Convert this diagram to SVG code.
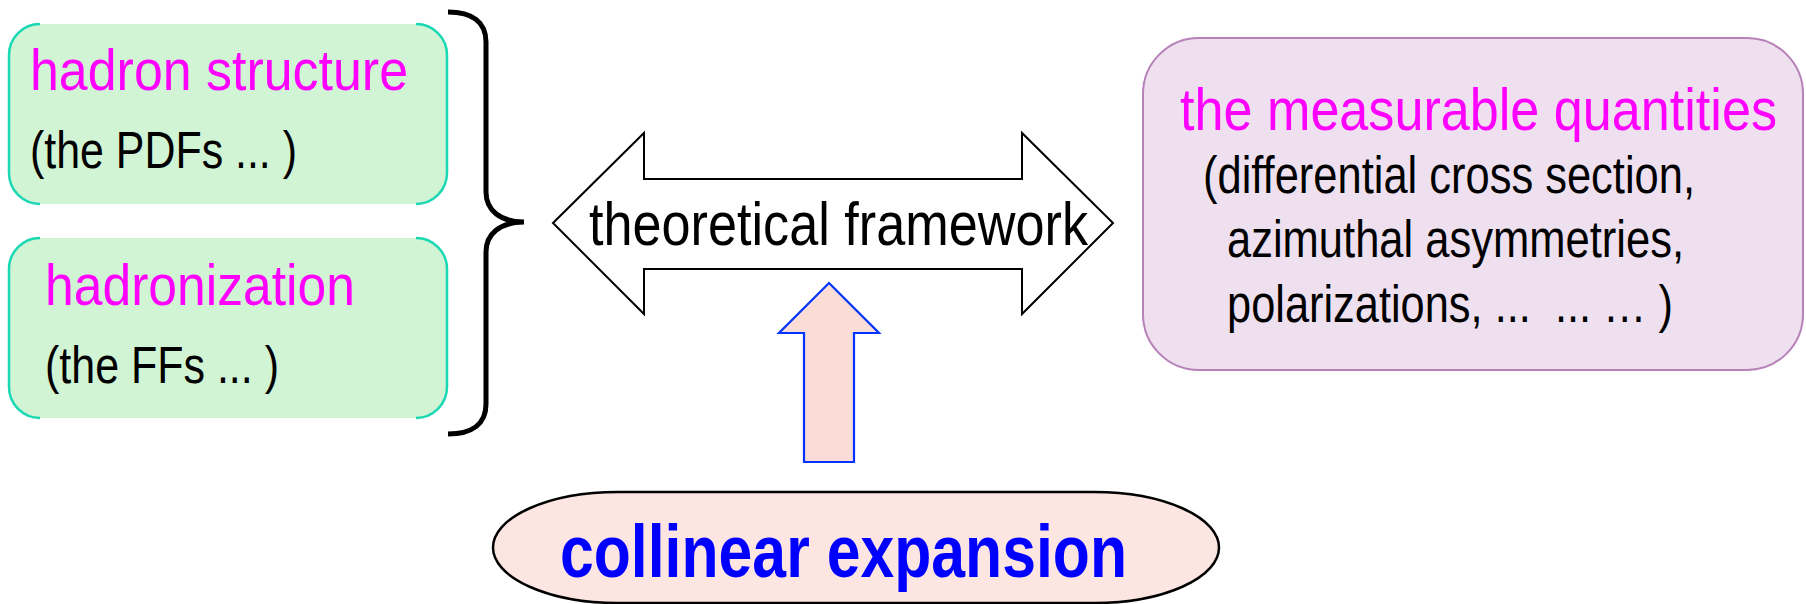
<svg xmlns="http://www.w3.org/2000/svg" width="1806" height="604" viewBox="0 0 1806 604">
<defs>
<style>
text { font-family: "Liberation Sans", Arial, sans-serif; white-space: pre; }
.title { fill: #ff00ff; font-size: 58px; }
.sub { fill: #000000; font-size: 52px; }
.gfill { fill: #d1f4d4; stroke: none; }
.gstroke { fill: none; stroke: #1ad8b4; stroke-width: 2.5; }
</style>
</defs>
<rect width="1806" height="604" fill="#ffffff"/>

<g id="node-hadron-structure">
<rect class="gfill" x="9" y="24" width="438" height="180" rx="31" ry="31"/>
<path class="gstroke" d="M40,24 A31,31 0 0 0 9,55 L9,173 A31,31 0 0 0 40,204 M416,204 A31,31 0 0 0 447,173 L447,55 A31,31 0 0 0 416,24"/>
<text class="title" x="30" y="90" textLength="378" lengthAdjust="spacingAndGlyphs">hadron structure</text>
<text class="sub" x="30" y="168" textLength="267" lengthAdjust="spacingAndGlyphs">(the PDFs ... )</text>
</g>

<g id="node-hadronization">
<rect class="gfill" x="9" y="238" width="438" height="180" rx="31" ry="31"/>
<path class="gstroke" d="M40,238 A31,31 0 0 0 9,269 L9,387 A31,31 0 0 0 40,418 M416,418 A31,31 0 0 0 447,387 L447,269 A31,31 0 0 0 416,238"/>
<text class="title" x="45" y="305" textLength="310" lengthAdjust="spacingAndGlyphs">hadronization</text>
<text class="sub" x="45" y="383" textLength="234" lengthAdjust="spacingAndGlyphs">(the FFs ... )</text>
</g>

<g id="brace">
<path d="M448,12 C472,12 486,22 486,42 L486,192 C486,210 500,222 524,222 C500,222 486,234 486,252 L486,404 C486,424 472,434 448,434" fill="none" stroke="#000000" stroke-width="5" stroke-linecap="butt"/>
</g>

<g id="node-framework">
<polygon points="553,223 644,133 644,179 1022,179 1022,133 1113,223 1022,314 1022,269 644,269 644,314" fill="#ffffff" stroke="#000000" stroke-width="2"/>
<text x="589" y="245" font-size="62" fill="#000000" textLength="499" lengthAdjust="spacingAndGlyphs">theoretical framework</text>
</g>

<g id="node-measurable">
<rect x="1143" y="38" width="660" height="332" rx="56" ry="56" fill="#eee0ef" stroke="#b781b9" stroke-width="2"/>
<text x="1180" y="130" font-size="59" fill="#ff00ff" textLength="597" lengthAdjust="spacingAndGlyphs">the measurable quantities</text>
<text x="1203" y="193" font-size="51" fill="#000000" textLength="492" lengthAdjust="spacingAndGlyphs">(differential cross section,</text>
<text x="1227" y="257" font-size="51" fill="#000000" textLength="457" lengthAdjust="spacingAndGlyphs">azimuthal asymmetries,</text>
<text x="1227" y="322" font-size="51" fill="#000000" textLength="446" lengthAdjust="spacingAndGlyphs">polarizations, ...  ... … )</text>
</g>

<g id="connectors">
<polygon points="829,283 879,333 854,333 854,462 804,462 804,333 779,333" fill="#fcdcd6" stroke="#0033ff" stroke-width="2.2"/>
</g>

<g id="node-collinear">
<rect x="493" y="492" width="726" height="111" rx="125" ry="55.5" fill="#fde5e2" stroke="#000000" stroke-width="2.5"/>
<text x="560" y="577" font-size="74" font-weight="bold" fill="#0000ff" textLength="567" lengthAdjust="spacingAndGlyphs">collinear expansion</text>
</g>
</svg>
